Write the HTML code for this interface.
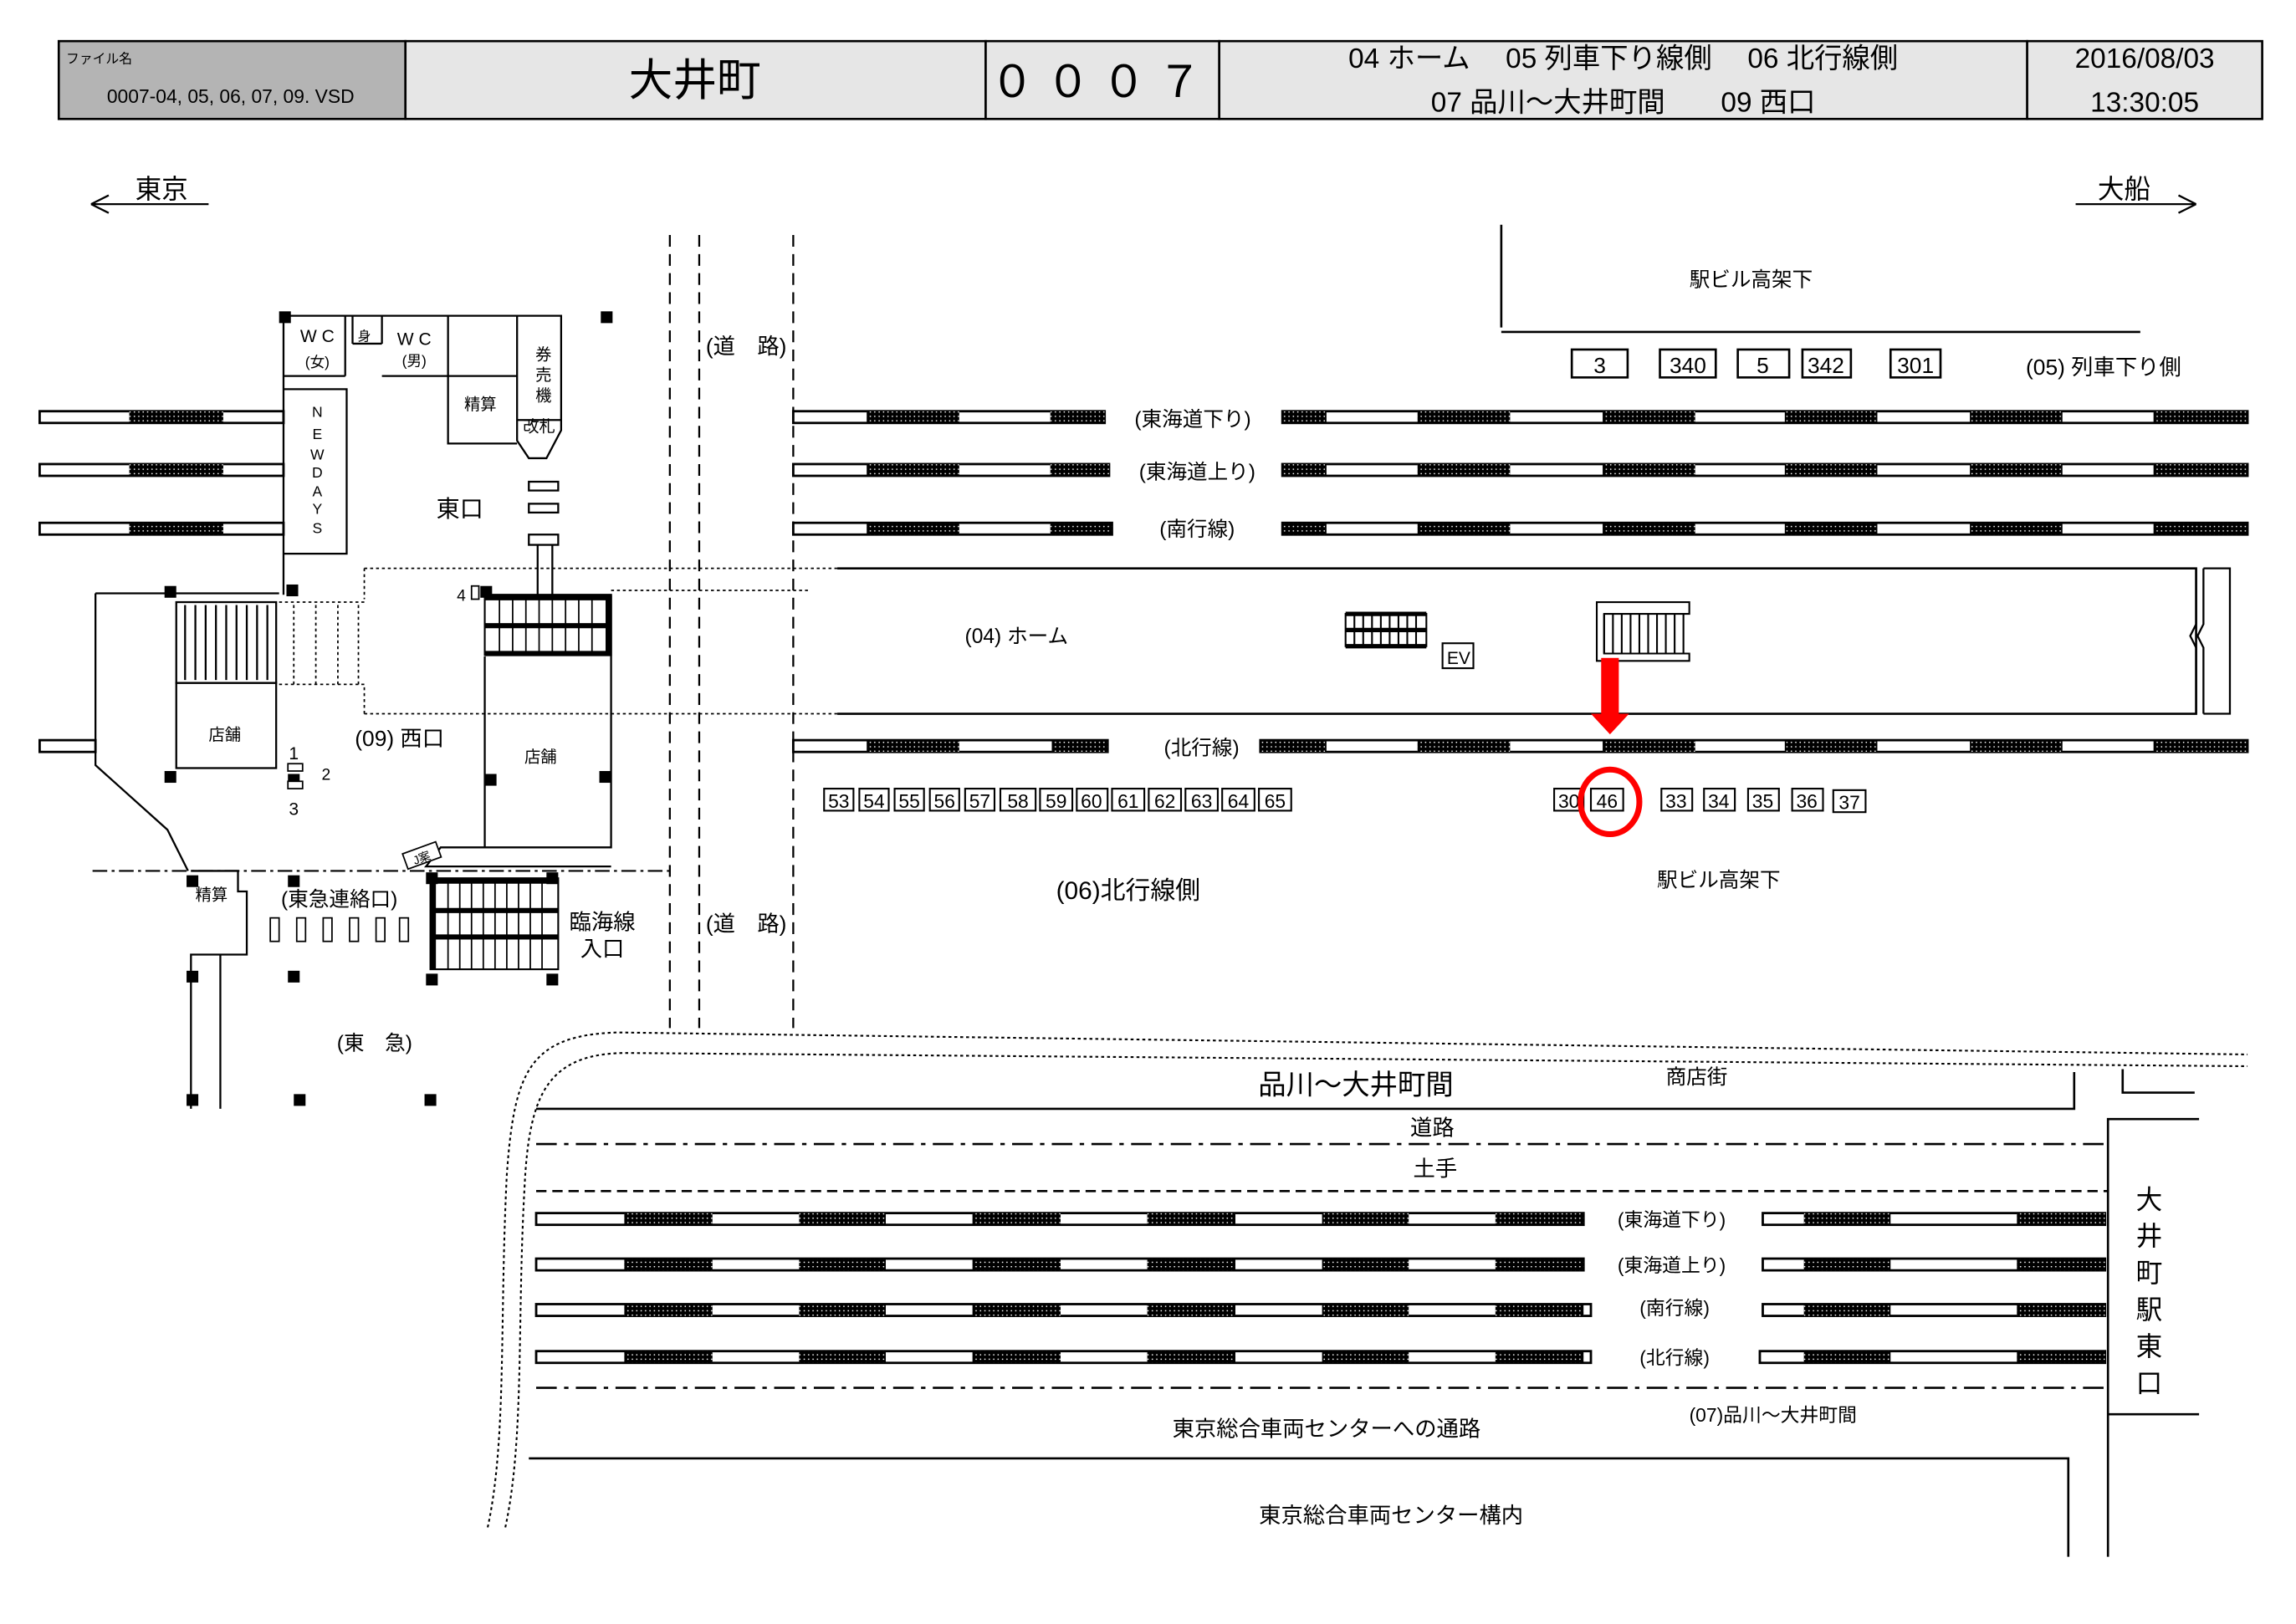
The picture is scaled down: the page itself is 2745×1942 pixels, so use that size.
<!DOCTYPE html>
<html><head><meta charset="utf-8"><style>
html,body{margin:0;padding:0;background:#fff;}
svg{display:block;}
text{font-family:"Liberation Sans","Noto Sans CJK JP",sans-serif;fill:#000;}
</style></head><body>
<svg width="2745" height="1942" viewBox="0 0 1563 1105.8" preserveAspectRatio="none" xmlns="http://www.w3.org/2000/svg">
<defs>
<pattern id="h" width="3" height="3" patternUnits="userSpaceOnUse">
<rect width="3" height="3" fill="#000"/><circle cx="1.5" cy="1.5" r="0.5" fill="#fff"/>
</pattern>
</defs>
<rect width="1563" height="1106" fill="#fff"/>

<!-- header -->
<rect x="40" y="28" width="236" height="53" fill="#b4b4b4" stroke="#000" stroke-width="1.5"/>
<rect x="276" y="28" width="395" height="53" fill="#e6e6e6" stroke="#000" stroke-width="1.5"/>
<rect x="671" y="28" width="159" height="53" fill="#e6e6e6" stroke="#000" stroke-width="1.5"/>
<rect x="830" y="28" width="550" height="53" fill="#e6e6e6" stroke="#000" stroke-width="1.5"/>
<rect x="1380" y="28" width="160" height="53" fill="#e6e6e6" stroke="#000" stroke-width="1.5"/>
<text x="45" y="43" font-size="9">ファイル名</text>
<text x="157" y="70" font-size="13" text-anchor="middle">0007-04, 05, 06, 07, 09. VSD</text>
<text x="473" y="65" font-size="30" text-anchor="middle">大井町</text>
<text x="750" y="66" font-size="30" text-anchor="middle" letter-spacing="8">０００７</text>
<text x="1105" y="46" font-size="19" text-anchor="middle">04 ホーム　 05 列車下り線側　 06 北行線側</text>
<text x="1105" y="76" font-size="19" text-anchor="middle">07 品川～大井町間　　09 西口</text>
<text x="1460" y="46" font-size="19" text-anchor="middle">2016/08/03</text>
<text x="1460" y="76" font-size="19" text-anchor="middle">13:30:05</text>

<!-- direction arrows -->
<text x="110" y="135" font-size="18" text-anchor="middle">東京</text>
<path d="M62 139H142M62 139l12 -6M62 139l12 6" stroke="#000" stroke-width="1.3" fill="none"/>
<text x="1446" y="135" font-size="18" text-anchor="middle">大船</text>
<path d="M1413 139H1495M1495 139l-12 -6M1495 139l-12 6" stroke="#000" stroke-width="1.3" fill="none"/>

<!-- top right building -->
<path d="M1022 153V223M1022 226H1457" stroke="#000" stroke-width="1.5" fill="none"/>
<text x="1192" y="195" font-size="14" text-anchor="middle">駅ビル高架下</text>
<g stroke="#000" stroke-width="1.5" fill="#fff">
<rect x="1070" y="238" width="38" height="19"/><rect x="1130" y="238" width="38" height="19"/>
<rect x="1183" y="238" width="35" height="19"/><rect x="1227" y="238" width="33" height="19"/>
<rect x="1287" y="238" width="34" height="19"/></g>
<g font-size="15" text-anchor="middle"><text x="1089" y="254">3</text><text x="1149" y="254">340</text><text x="1200" y="254">5</text><text x="1243" y="254">342</text><text x="1304" y="254">301</text></g>
<text x="1432" y="255" font-size="15" text-anchor="middle">(05) 列車下り側</text>

<!-- right tracks -->
<g stroke="#000" stroke-width="1.6" fill="#fff">
<rect x="540" y="280" width="212" height="8"/><rect x="873" y="280" width="657" height="8"/>
<rect x="540" y="316" width="215" height="8"/><rect x="873" y="316" width="657" height="8"/>
<rect x="540" y="356" width="217" height="8"/><rect x="873" y="356" width="657" height="8"/>
<rect x="540" y="504" width="214" height="8"/><rect x="858" y="504" width="672" height="8"/>
</g>
<g fill="url(#h)">
<rect x="590" y="280" width="63" height="8"/><rect x="715" y="280" width="37" height="8"/>
<rect x="590" y="316" width="63" height="8"/><rect x="715" y="316" width="40" height="8"/>
<rect x="590" y="356" width="63" height="8"/><rect x="715" y="356" width="42" height="8"/>
<rect x="590" y="504" width="63" height="8"/><rect x="716" y="504" width="38" height="8"/>
<rect x="873" y="280" width="30" height="8"/><rect x="873" y="316" width="30" height="8"/><rect x="873" y="356" width="30" height="8"/><rect x="858" y="504" width="45" height="8"/>
</g>
<g fill="url(#h)">
<rect x="965" y="280" width="63" height="8"/><rect x="1091" y="280" width="63" height="8"/><rect x="1215" y="280" width="63" height="8"/><rect x="1341" y="280" width="63" height="8"/><rect x="1466" y="280" width="64" height="8"/>
<rect x="965" y="316" width="63" height="8"/><rect x="1091" y="316" width="63" height="8"/><rect x="1215" y="316" width="63" height="8"/><rect x="1341" y="316" width="63" height="8"/><rect x="1466" y="316" width="64" height="8"/>
<rect x="965" y="356" width="63" height="8"/><rect x="1091" y="356" width="63" height="8"/><rect x="1215" y="356" width="63" height="8"/><rect x="1341" y="356" width="63" height="8"/><rect x="1466" y="356" width="64" height="8"/>
<rect x="965" y="504" width="63" height="8"/><rect x="1091" y="504" width="63" height="8"/><rect x="1215" y="504" width="63" height="8"/><rect x="1341" y="504" width="63" height="8"/><rect x="1466" y="504" width="64" height="8"/>
</g>
<g font-size="14" text-anchor="middle">
<text x="812" y="290">(東海道下り)</text><text x="815" y="326">(東海道上り)</text>
<text x="815" y="365">(南行線)</text><text x="818" y="514">(北行線)</text></g>

<!-- left tracks -->
<g stroke="#000" stroke-width="1.6" fill="#fff">
<rect x="27" y="280" width="166" height="8"/><rect x="27" y="316" width="166" height="8"/><rect x="27" y="356" width="166" height="8"/>
<rect x="27" y="504" width="38" height="8"/></g>
<g fill="url(#h)"><rect x="88" y="280" width="64" height="8"/><rect x="88" y="316" width="64" height="8"/><rect x="88" y="356" width="64" height="8"/></g>

<!-- platform 04 -->
<path d="M570 387H1495V486H570" stroke="#000" stroke-width="1.5" fill="none"/>
<path d="M1495 387V425l-4 8 4 8V486M1500 387V425l-4 8 4 8V486M1500 387H1518V486H1500" stroke="#000" stroke-width="1.3" fill="none"/>
<path d="M248 387H570M248 387V408M248 486H570M248 468V486" stroke="#000" stroke-width="1" stroke-dasharray="2 2" fill="none"/>
<path d="M416 402H550" stroke="#000" stroke-width="1" stroke-dasharray="2 2"/>
<text x="692" y="438" font-size="14" text-anchor="middle">(04) ホーム</text>
<g stroke="#000" fill="none" stroke-width="1.2">
<rect x="916" y="418" width="55" height="22"/>
<path d="M916 418H971M916 429H971M916 440H971" stroke-width="3"/>
<path d="M922 418V440M928 418V440M934 418V440M940 418V440M946 418V440M952 418V440M958 418V440M964 418V440"/>
<rect x="982" y="438" width="21" height="17"/>
<path d="M1087 410H1150V418H1092V445H1150V450H1087Z"/>
<path d="M1092 418V445M1098 418V445M1104 418V445M1110 418V445M1116 418V445M1122 418V445M1128 418V445M1134 418V445M1140 418V445M1146 418V445"/>
</g>
<text x="993" y="452" font-size="12" text-anchor="middle">EV</text>
<rect x="1090" y="448" width="12" height="38" fill="#f00"/>
<path d="M1083 486H1109L1096 500Z" fill="#f00"/>

<!-- number boxes -->
<g stroke="#000" stroke-width="1.2" fill="#fff">
<rect x="561" y="537" width="20" height="15"/><rect x="585" y="537" width="20" height="15"/><rect x="609" y="537" width="20" height="15"/><rect x="633" y="537" width="20" height="15"/><rect x="657" y="537" width="20" height="15"/><rect x="681" y="537" width="24" height="15"/><rect x="708" y="537" width="22" height="15"/><rect x="733" y="537" width="21" height="15"/><rect x="757" y="537" width="22" height="15"/><rect x="782" y="537" width="22" height="15"/><rect x="807" y="537" width="22" height="15"/><rect x="832" y="537" width="22" height="15"/><rect x="857" y="537" width="22" height="15"/>
<rect x="1058" y="537" width="20" height="15"/><rect x="1083" y="537" width="22" height="15"/>
<rect x="1131" y="537" width="21" height="15"/><rect x="1160" y="537" width="21" height="15"/><rect x="1190" y="537" width="21" height="15"/><rect x="1220" y="537" width="21" height="15"/><rect x="1248" y="538" width="22" height="15"/>
</g>
<g font-size="13" text-anchor="middle">
<text x="571" y="550">53</text><text x="595" y="550">54</text><text x="619" y="550">55</text><text x="643" y="550">56</text><text x="667" y="550">57</text><text x="693" y="550">58</text><text x="719" y="550">59</text><text x="743" y="550">60</text><text x="768" y="550">61</text><text x="793" y="550">62</text><text x="818" y="550">63</text><text x="843" y="550">64</text><text x="868" y="550">65</text>
<text x="1068" y="550">30</text><text x="1094" y="550">46</text><text x="1141" y="550">33</text><text x="1170" y="550">34</text><text x="1200" y="550">35</text><text x="1230" y="550">36</text><text x="1259" y="551">37</text></g>
<ellipse cx="1096" cy="546" rx="20" ry="22" fill="none" stroke="#f00" stroke-width="4"/>
<text x="768" y="612" font-size="17" text-anchor="middle">(06)北行線側</text>
<text x="1170" y="604" font-size="14" text-anchor="middle">駅ビル高架下</text>

<!-- roads -->
<g stroke="#000" stroke-width="1.3" stroke-dasharray="8 5" fill="none">
<path d="M456 160V700M476 160V700M540 160V700"/></g>
<rect x="478" y="222" width="60" height="26" fill="#fff"/>
<rect x="478" y="615" width="60" height="26" fill="#fff"/>
<text x="508" y="241" font-size="15" text-anchor="middle">(道　路)</text>
<text x="508" y="634" font-size="15" text-anchor="middle">(道　路)</text>
<path d="M63 593H456" stroke="#000" stroke-width="1.2" stroke-dasharray="10 3 2 3" fill="none"/>

<!-- left station -->
<g stroke="#000" stroke-width="1.3" fill="none">
<path d="M193 215V405M193 215H382V293L372 312H360L352 300V215"/>
<path d="M193 256H235M193 265H236V377H193M235 215V256M240 215V234M260 215V234M240 234H260M305 215V302H352M305 256H352M352 286H382M260 256H305"/>
<rect x="360" y="328" width="20" height="6"/><rect x="360" y="343" width="20" height="6"/><rect x="360" y="364" width="20" height="7"/>
<path d="M366 371V405M376 371V405"/>
<path d="M65 404H190M65 404V521L114 565L128 593"/>
<rect x="120" y="410" width="68" height="55"/>
<path d="M126 412V463M133 412V463M140 412V463M147 412V463M154 412V463M161 412V463M168 412V463M175 412V463M182 412V463"/>
<rect x="120" y="465" width="68" height="58"/>
<path d="M330 405H416V577H300L290 590H416M330 447V577"/>
<path d="M130 593H162V607H168V650H130V755M150 650V755"/>
</g>
<g stroke="#000" stroke-width="1" fill="none" stroke-dasharray="2 2"><path d="M190 410H248M190 466H248M200 412V466M215 412V466M230 412V466M244 412V466"/></g>
<g stroke="#000" fill="none">
<rect x="330" y="406" width="86" height="40" stroke-width="1.2"/>
<path d="M330 407H416M330 426H416M330 445H416M414 407V445" stroke-width="3.5"/>
<path d="M340 407V445M349 407V445M358 407V445M367 407V445M376 407V445M385 407V445M394 407V445M403 407V445" stroke-width="1"/>
<rect x="293" y="598" width="87" height="62" stroke-width="1.2"/>
<path d="M293 600H380M293 620H380M293 638H380M295 598V660" stroke-width="3.5"/>
<path d="M305 600V660M313 600V660M321 600V660M329 600V660M337 600V660M345 600V660M353 600V660M361 600V660M369 600V660" stroke-width="1"/>
</g>
<g fill="#000">
<rect x="190" y="212" width="8" height="8"/><rect x="409" y="212" width="8" height="8"/><rect x="195" y="398" width="8" height="8"/><rect x="112" y="399" width="8" height="8"/>
<rect x="112" y="525" width="8" height="8"/><rect x="330" y="527" width="8" height="8"/><rect x="408" y="525" width="8" height="8"/><rect x="196" y="527" width="8" height="8"/>
<rect x="127" y="596" width="8" height="8"/><rect x="196" y="596" width="8" height="8"/><rect x="290" y="594" width="8" height="8"/><rect x="372" y="594" width="8" height="8"/>
<rect x="127" y="661" width="8" height="8"/><rect x="196" y="661" width="8" height="8"/><rect x="290" y="663" width="8" height="8"/><rect x="372" y="663" width="8" height="8"/>
<rect x="127" y="745" width="8" height="8"/><rect x="200" y="745" width="8" height="8"/><rect x="289" y="745" width="8" height="8"/><rect x="327" y="399" width="8" height="8"/>
</g>
<g stroke="#000" stroke-width="1" fill="#fff"><rect x="184" y="625" width="6" height="16"/><rect x="202" y="625" width="6" height="16"/><rect x="220" y="625" width="6" height="16"/><rect x="238" y="625" width="6" height="16"/><rect x="256" y="625" width="6" height="16"/><rect x="272" y="625" width="6" height="16"/>
<rect x="321" y="399" width="5" height="9"/><rect x="196" y="520" width="10" height="5"/><rect x="196" y="532" width="10" height="5"/>
<rect x="275" y="577" width="24" height="11" transform="rotate(-20 287 582)"/></g>
<g font-size="12" text-anchor="middle">
<text x="216" y="233">W C</text><text x="216" y="250" font-size="10">(女)</text><text x="248" y="232" font-size="9">身</text>
<text x="282" y="235">W C</text><text x="282" y="249" font-size="10">(男)</text>
<text x="327" y="279" font-size="11">精算</text><text x="370" y="245" font-size="11">券</text><text x="370" y="259" font-size="11">売</text><text x="370" y="273" font-size="11">機</text><text x="367" y="294" font-size="11">改札</text>
<text x="216" y="284" font-size="10">N</text><text x="216" y="299" font-size="10">E</text><text x="216" y="313" font-size="10">W</text><text x="216" y="325" font-size="10">D</text><text x="216" y="338" font-size="10">A</text><text x="216" y="350" font-size="10">Y</text><text x="216" y="363" font-size="10">S</text>
<text x="313" y="352" font-size="16">東口</text>
<text x="153" y="504" font-size="11">店舗</text><text x="368" y="519" font-size="11">店舗</text>
<text x="272" y="508" font-size="15">(09) 西口</text>
<text x="200" y="517">1</text><text x="200" y="555">3</text><text x="222" y="531" font-size="11">2</text><text x="314" y="409" font-size="11">4</text>
<text x="144" y="613" font-size="11">精算</text><text x="231" y="617" font-size="14">(東急連絡口)</text>
<text x="410" y="633" font-size="15">臨海線</text><text x="410" y="651" font-size="15">入口</text>
<text x="255" y="715" font-size="14">(東　急)</text><text x="287" y="587" font-size="8" transform="rotate(-20 287 584)">J案</text>
</g>

<!-- lower area -->
<g stroke="#000" stroke-width="1.2" fill="none" stroke-dasharray="2 2">
<path d="M332 1040C345 980 340 900 345 800C350 730 360 705 420 703L1530 718"/>
<path d="M344 1040C357 980 352 900 357 810C360 745 372 716 430 717L1530 726"/>
</g>
<path d="M365 755H1412V730" stroke="#000" stroke-width="1.5" fill="none"/>
<path d="M1445 728V744H1494" stroke="#000" stroke-width="1.5" fill="none"/>
<text x="923" y="745" font-size="19" text-anchor="middle">品川～大井町間</text>
<text x="1155" y="738" font-size="14" text-anchor="middle">商店街</text>
<path d="M365 779H1435M365 945H1435" stroke="#000" stroke-width="1.5" stroke-dasharray="14 5 3 5" fill="none"/>
<path d="M365 811H1435" stroke="#000" stroke-width="1.5" stroke-dasharray="7 4" fill="none"/>
<text x="975" y="773" font-size="15" text-anchor="middle">道路</text>
<text x="977" y="801" font-size="15" text-anchor="middle">土手</text>
<g stroke="#000" stroke-width="1.6" fill="#fff">
<rect x="365" y="826" width="713" height="8"/><rect x="1200" y="826" width="233" height="8"/>
<rect x="365" y="857" width="713" height="8"/><rect x="1200" y="857" width="233" height="8"/>
<rect x="365" y="888" width="718" height="8"/><rect x="1200" y="888" width="233" height="8"/>
<rect x="365" y="920" width="718" height="8"/><rect x="1198" y="920" width="235" height="8"/>
</g>
<g fill="url(#h)">
<rect x="425" y="826" width="60" height="8"/><rect x="544" y="826" width="59" height="8"/><rect x="662" y="826" width="60" height="8"/><rect x="781" y="826" width="60" height="8"/><rect x="900" y="826" width="59" height="8"/><rect x="1018" y="826" width="60" height="8"/><rect x="1228" y="826" width="59" height="8"/><rect x="1373" y="826" width="60" height="8"/>
<rect x="425" y="857" width="60" height="8"/><rect x="544" y="857" width="59" height="8"/><rect x="662" y="857" width="60" height="8"/><rect x="781" y="857" width="60" height="8"/><rect x="900" y="857" width="59" height="8"/><rect x="1018" y="857" width="60" height="8"/><rect x="1228" y="857" width="59" height="8"/><rect x="1373" y="857" width="60" height="8"/>
<rect x="425" y="888" width="60" height="8"/><rect x="544" y="888" width="59" height="8"/><rect x="662" y="888" width="60" height="8"/><rect x="781" y="888" width="60" height="8"/><rect x="900" y="888" width="59" height="8"/><rect x="1018" y="888" width="60" height="8"/><rect x="1228" y="888" width="59" height="8"/><rect x="1373" y="888" width="60" height="8"/>
<rect x="425" y="920" width="60" height="8"/><rect x="544" y="920" width="59" height="8"/><rect x="662" y="920" width="60" height="8"/><rect x="781" y="920" width="60" height="8"/><rect x="900" y="920" width="59" height="8"/><rect x="1018" y="920" width="60" height="8"/><rect x="1228" y="920" width="59" height="8"/><rect x="1373" y="920" width="60" height="8"/>
</g>
<g font-size="13" text-anchor="middle">
<text x="1138" y="835">(東海道下り)</text><text x="1138" y="866">(東海道上り)</text><text x="1140" y="895">(南行線)</text><text x="1140" y="929">(北行線)</text></g>
<text x="903" y="978" font-size="15" text-anchor="middle">東京総合車両センターへの通路</text>
<text x="1207" y="968" font-size="13" text-anchor="middle">(07)品川～大井町間</text>
<path d="M360 993H1408V1060" stroke="#000" stroke-width="1.5" fill="none"/>
<text x="947" y="1037" font-size="15" text-anchor="middle">東京総合車両センター構内</text>
<path d="M1497 762H1435V1060M1435 963H1497" stroke="#000" stroke-width="1.5" fill="none"/>
<g font-size="18" text-anchor="middle">
<text x="1463" y="823">大</text><text x="1463" y="848">井</text><text x="1463" y="873">町</text><text x="1463" y="898">駅</text><text x="1463" y="923">東</text><text x="1463" y="948">口</text></g>
</svg>
</body></html>
